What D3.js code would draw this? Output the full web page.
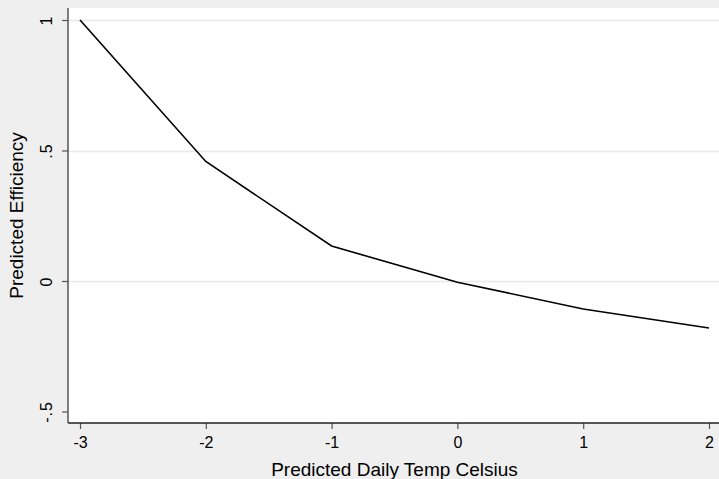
<!DOCTYPE html>
<html>
<head>
<meta charset="utf-8">
<script src="https://cdn.jsdelivr.net/npm/d3@7"></script>
<style>
  body { margin: 0; background: #efefef; }
  text { font-family: "Liberation Sans", Arial, Helvetica, sans-serif; fill: #000; }
</style>
</head>
<body>
<div id="chart"></div>
<script>
// Data
const tempValues = [-3, -2, -1, 0, 1, 2]
const efficiencyValues = [1.0, 0.458, 0.134, -0.005, -0.107, -0.18]
const xTicks = [-3, -2, -1, 0, 1, 2]
const yTicks = [-0.5, 0, 0.5, 1]
const yTickLabels = ['-.5', '0', '.5', '1']
const gridTicks = [0, 0.5, 1]

function draw() {
	let dimensions = {
		width: 719,
		height: 479,
		margin: { top: 8, bottom: 56, left: 68, right: 0 }
	}
	dimensions.ctrWidth = dimensions.width - dimensions.margin.left - dimensions.margin.right
	dimensions.ctrHeight = dimensions.height - dimensions.margin.top - dimensions.margin.bottom

	const svg = d3.select('#chart')
		.append('svg')
		.attr('width', dimensions.width)
		.attr('height', dimensions.height)
		.style('display', 'block')

	svg.append('rect')
		.attr('width', dimensions.width)
		.attr('height', dimensions.height)
		.attr('fill', '#efefef')

	const ctr = svg.append('g')
		.attr('transform', `translate(${dimensions.margin.left}, ${dimensions.margin.top})`)

	ctr.append('rect')
		.attr('width', dimensions.ctrWidth)
		.attr('height', dimensions.ctrHeight)
		.attr('fill', '#fff')

	// Scales
	const xScale = d3.scaleLinear()
		.domain([-3, 2])
		.range([12, 641])

	const yScale = d3.scaleLinear()
		.domain([-0.5, 1])
		.range([403.5, 12])

	// Grid
	ctr.selectAll('.grid')
		.data(gridTicks)
		.join('line')
		.attr('x1', 0)
		.attr('x2', dimensions.ctrWidth)
		.attr('y1', d => Math.round(yScale(d)) + 0.5)
		.attr('y2', d => Math.round(yScale(d)) + 0.5)
		.attr('stroke', '#e8e8e8')
		.attr('stroke-width', 1.5)

	// Line
	const line = d3.line()
		.x((d, i) => xScale(tempValues[i]))
		.y(d => yScale(d))

	ctr.append('path')
		.datum(efficiencyValues)
		.attr('d', line)
		.attr('fill', 'none')
		.attr('stroke', '#000')
		.attr('stroke-width', 1.6)

	// Axes
	const xAxis = d3.axisBottom(xScale)
		.tickValues(xTicks)
		.tickSize(6)
		.tickPadding(8)
		.tickFormat(d => String(d))

	const xAxisGroup = ctr.append('g')
		.attr('transform', `translate(0, ${dimensions.ctrHeight})`)
		.call(xAxis)
	xAxisGroup.select('.domain').remove()
	xAxisGroup.selectAll('.tick line').attr('stroke', '#555').attr('stroke-width', 1.2)
	xAxisGroup.selectAll('.tick text')
		.attr('font-size', 16)
		.attr('fill', '#000')
		.style('font-family', '"Liberation Sans", Arial, sans-serif')

	ctr.append('line')
		.attr('x1', 0)
		.attr('x2', dimensions.ctrWidth)
		.attr('y1', dimensions.ctrHeight)
		.attr('y2', dimensions.ctrHeight)
		.attr('stroke', '#222')
		.attr('stroke-width', 1.5)

	const yAxis = d3.axisLeft(yScale)
		.tickValues(yTicks)
		.tickSize(6)
		.tickFormat('')

	const yAxisGroup = ctr.append('g').call(yAxis)
	yAxisGroup.select('.domain').remove()
	yAxisGroup.selectAll('.tick line').attr('stroke', '#555').attr('stroke-width', 1.2)

	yAxisGroup.selectAll('.tick')
		.append('text')
		.data(yTickLabels)
		.attr('transform', 'translate(-16, 0) rotate(-90)')
		.attr('text-anchor', 'middle')
		.attr('font-size', 16)
		.attr('letter-spacing', 1)
		.text(d => d)

	ctr.append('line')
		.attr('x1', 0)
		.attr('x2', 0)
		.attr('y1', 0)
		.attr('y2', dimensions.ctrHeight)
		.attr('stroke', '#555')
		.attr('stroke-width', 1.5)

	// Labels
	svg.append('text')
		.attr('x', dimensions.margin.left + (xScale(-3) + xScale(2)) / 2)
		.attr('y', 475.5)
		.attr('text-anchor', 'middle')
		.attr('font-size', 19)
		.text('Predicted Daily Temp Celsius')

	svg.append('text')
		.attr('transform', `translate(23, ${dimensions.margin.top + dimensions.ctrHeight / 2}) rotate(-90)`)
		.attr('text-anchor', 'middle')
		.attr('font-size', 19)
		.text('Predicted Efficiency')
}

draw()
</script>
</body>
</html>
